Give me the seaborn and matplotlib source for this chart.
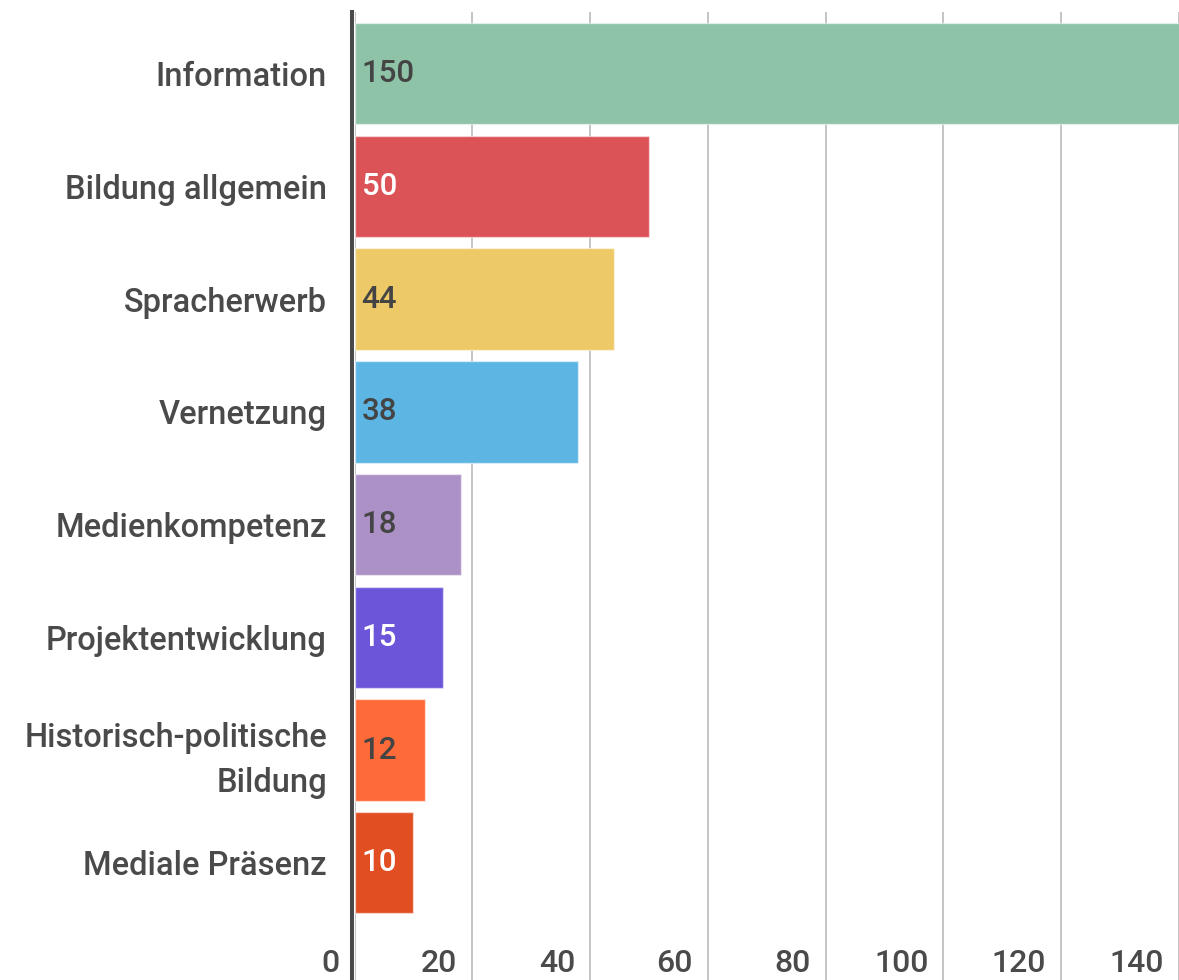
import matplotlib
matplotlib.use("Agg")
import matplotlib.pyplot as plt
import matplotlib.transforms as mtransforms
import seaborn as sns
import pandas as pd

categories = ["Information", "Bildung allgemein", "Spracherwerb", "Vernetzung",
              "Medienkompetenz", "Projektentwicklung",
              "Historisch-politische\nBildung", "Mediale Präsenz"]
values = [150, 50, 44, 38, 18, 15, 12, 10]
colors = ["#8EC3A7", "#DB5257", "#EDC968", "#5DB5E3",
          "#AB91C6", "#6C55D9", "#FF6A39", "#E04E22"]
label_colors = ["#444444", "#FFFFFF", "#444444", "#444444",
                "#444444", "#FFFFFF", "#444444", "#FFFFFF"]
x_ticks = [0, 20, 40, 60, 80, 100, 120, 140]

sns.set_theme(style="white")
plt.rcParams["font.family"] = ["Roboto", "DejaVu Sans"]

df = pd.DataFrame({"cat": categories, "val": values})

fig = plt.figure(figsize=(11.79, 9.80), dpi=100)
left_px = 354.5
ax = fig.add_axes([left_px / 1179, 0.0, 1 - left_px / 1179, 1 - 12 / 980])

sns.barplot(data=df, x="val", y="cat", hue="cat", palette=colors, legend=False,
            orient="h", width=0.9, ax=ax, saturation=1,
            edgecolor=(1, 1, 1, 0.5), linewidth=1)

ax.set_xlim(0, 138.4)
ax.set_ylim(len(categories) - 1 + 1.04, -0.546)
ax.set_xlabel("")
ax.set_ylabel("")

for s in ["top", "right", "bottom"]:
    ax.spines[s].set_visible(False)
ax.spines["left"].set_color("#4a4a4a")
ax.spines["left"].set_linewidth(2.9)
ax.spines["left"].set_zorder(5)
ax.spines["left"].set_position(("outward", 1.8))

ax.set_xticks(x_ticks)
ax.set_xticklabels([])
ax.tick_params(axis="x", length=0)
ax.grid(axis="x", color="#c4c4c4", linewidth=1.4)
ax.set_axisbelow(True)

ax.tick_params(axis="y", length=0, pad=18, labelsize=23.5, labelcolor="#4a4a4a")
for t in ax.get_yticklabels():
    t.set_fontweight("medium")
    t.set_linespacing(1.55)

# value labels
off = mtransforms.offset_copy(ax.transData, fig=fig, x=7, y=0, units="dots")
for i, (v, c) in enumerate(zip(values, label_colors)):
    ax.text(0, i, str(v), transform=off, ha="left", va="center",
            fontsize=22.5, color=c, fontweight="medium", zorder=6)

# x tick labels inside the axes at bottom
blend = mtransforms.blended_transform_factory(ax.transData, ax.transAxes)
toff = mtransforms.offset_copy(blend, fig=fig, x=-15, y=0, units="dots")
for xt in x_ticks:
    ax.text(xt, 17 / 968, str(xt), transform=toff, ha="right", va="center",
            fontsize=23, color="#4a4a4a", fontweight="medium", clip_on=False)

fig.savefig("out.png", dpi=100)
